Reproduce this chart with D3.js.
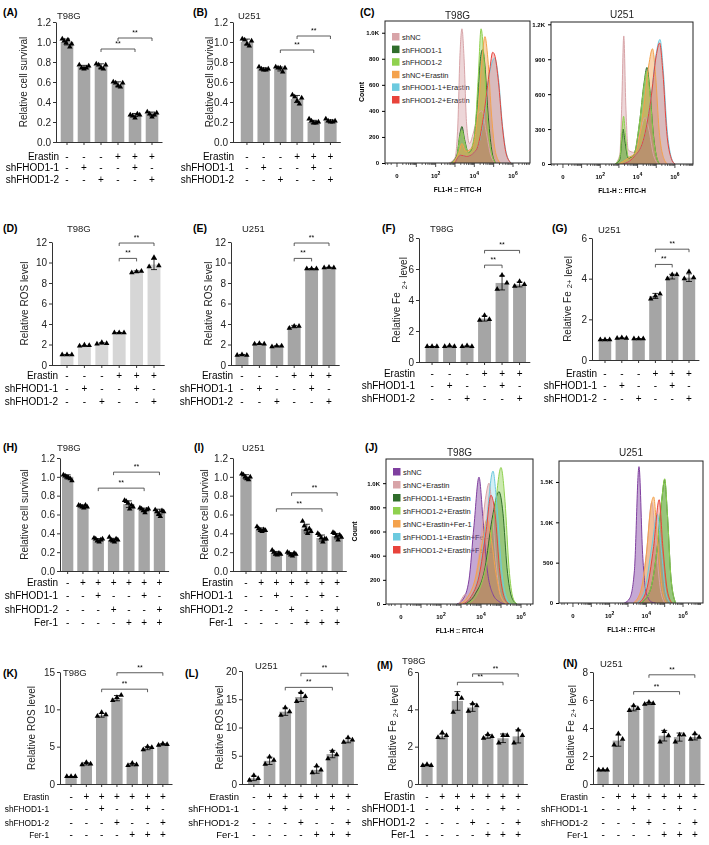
<!DOCTYPE html>
<html>
<head>
<meta charset="utf-8">
<script src="https://cdn.jsdelivr.net/npm/d3@7"></script>
<style>
body { margin: 0; background: #fff; }
</style>
</head>
<body>
<svg id="fig" width="709" height="845"></svg>
<script>
// ---- data ----
var rows3 = ["Erastin", "shFHOD1-1", "shFHOD1-2"];
var signs3 = [["-","-","-","+","+","+"], ["-","+","-","-","+","-"], ["-","-","+","-","-","+"]];
var rows4 = ["Erastin", "shFHOD1-1", "shFHOD1-2", "Fer-1"];
var signs4 = [["-","+","+","+","+","+","+"], ["-","-","+","-","-","+","-"], ["-","-","-","+","-","-","+"], ["-","-","-","-","+","+","+"]];

var survA = [1.0, 0.75, 0.76, 0.58, 0.27, 0.28];
var survAPts = [[1.03,1.01,0.99,1.02,0.95,0.98],[0.77,0.74,0.73,0.74,0.76],[0.78,0.77,0.74,0.73,0.77],[0.60,0.59,0.56,0.55,0.59],[0.27,0.26,0.24,0.28,0.27],[0.30,0.28,0.25,0.27,0.29]];
var survB = [1.0, 0.73, 0.73, 0.43, 0.2, 0.21];
var survBPts = [[1.03,1.02,0.98,0.96,1.01],[0.75,0.73,0.72,0.72,0.73],[0.75,0.74,0.74,0.70,0.74],[0.47,0.45,0.41,0.38,0.44],[0.23,0.21,0.19,0.19,0.2],[0.23,0.21,0.2,0.2,0.21]];
var rosD = [1.0, 1.85, 2.1, 3.15, 9.1, 9.8];
var rosDPts = [[1,1,1],[1.85,1.95,1.9],[2.05,2.2,2.1],[3.15,3.15,3.15],[9.0,9.1,9.15],[9.6,10.5,9.7]];
var rosE = [1.0, 2.05, 1.85, 3.75, 9.4, 9.5];
var rosEPts = [[0.95,1.0,0.95],[2.05,2.1,2.05],[1.8,1.85,1.85],[3.6,3.8,3.8],[9.4,9.4,9.4],[9.5,9.55,9.5]];
var feF = [1.0, 1.0, 1.0, 2.8, 5.1, 5.0];
var feFPts = [[1,1,1],[1,1.05,1],[1.0,1.05,1.0],[2.7,3.0,2.75],[4.7,5.6,5.1],[4.9,5.2,5.0]];
var feG = [1.0, 1.07, 1.05, 3.15, 4.1, 4.05];
var feGPts = [[1,1,1],[1.07,1.1,1.07],[1.05,1.05,1.05],[3.0,3.15,3.25],[4.0,4.2,4.2],[4.0,4.35,4.05]];
var survH = [1.0, 0.69, 0.33, 0.33, 0.71, 0.65, 0.63];
var survHPts = [[1.02,1.01,1.0,0.99,0.98,0.96],[0.7,0.69,0.68,0.67,0.7,0.68],[0.35,0.34,0.32,0.31,0.33,0.34],[0.36,0.33,0.32,0.31,0.34,0.33],[0.75,0.74,0.72,0.66,0.7,0.68],[0.67,0.66,0.64,0.62,0.65,0.66],[0.65,0.63,0.6,0.58,0.64,0.63]];
var survI = [1.0, 0.44, 0.19, 0.18, 0.45, 0.35, 0.37];
var survIPts = [[1.03,1.02,1.0,0.98,0.97,1.0],[0.47,0.45,0.43,0.42,0.44,0.43],[0.22,0.2,0.18,0.17,0.19,0.18],[0.2,0.19,0.17,0.16,0.19,0.18],[0.53,0.48,0.44,0.4,0.45,0.42],[0.4,0.38,0.35,0.31,0.34,0.34],[0.41,0.4,0.37,0.33,0.38,0.36]];
var rosK = [1.0, 2.7, 9.2, 11.5, 2.6, 4.8, 5.3];
var rosKPts = [[1,1,1],[2.6,2.9,2.7],[9.1,9.6,9.3],[11.2,11.6,11.9],[2.5,2.8,2.6],[4.6,5.0,4.9],[5.2,5.4,5.3]];
var rosL = [1.0, 4.1, 12.8, 15.4, 2.5, 5.3, 7.7];
var rosLPts = [[0.7,1.5,1.0],[3.5,4.8,4.2],[12.2,13.5,12.8],[14.6,16.2,15.5],[2.0,3.2,2.5],[4.5,5.8,5.2],[7.4,8.2,7.8]];
var feM = [1.0, 2.55, 4.45, 4.1, 2.55, 2.45, 2.55];
var feMPts = [[1.0,1.05,1.0],[2.5,2.75,2.6],[3.85,4.8,4.6],[3.9,4.3,4.2],[2.45,2.65,2.55],[2.2,2.6,2.6],[2.2,2.9,2.6]];
var feN = [1.0, 3.1, 5.4, 5.75, 3.45, 3.35, 3.35];
var feNPts = [[1,1,1],[2.8,3.6,3.2],[5.25,5.6,5.4],[5.7,5.85,5.75],[3.0,3.75,3.45],[3.0,3.5,3.5],[3.2,3.6,3.35]];

// flow cytometry overlays, points are [log decade, count]
var legendC = ["shNC", "shFHOD1-1", "shFHOD1-2", "shNC+Erastin", "shFHOD1-1+Erastin", "shFHOD1-2+Erastin"];
var colorsC = ["#d8a4a8", "#2f6d2b", "#8fd14f", "#f4a24c", "#6ccadf", "#e8433b"];
var histCT98G = [
  [[2.7,0],[3.0,40],[3.15,300],[3.25,800],[3.36,1030],[3.47,800],[3.6,300],[3.75,150],[3.95,230],[4.2,380],[4.4,400],[4.6,250],[4.85,60],[5.1,0]],
  [[2.8,0],[3.1,60],[3.25,220],[3.36,280],[3.5,180],[3.7,80],[3.95,150],[4.15,450],[4.3,780],[4.42,870],[4.55,750],[4.7,400],[4.9,100],[5.1,0]],
  [[2.8,0],[3.1,50],[3.25,200],[3.36,250],[3.5,160],[3.7,80],[4.0,200],[4.2,650],[4.35,1030],[4.48,850],[4.65,400],[4.85,100],[5.1,0]],
  [[2.9,0],[3.2,80],[3.36,150],[3.55,90],[3.9,120],[4.2,400],[4.4,800],[4.55,970],[4.7,800],[4.9,350],[5.1,80],[5.35,0]],
  [[3.0,0],[3.3,60],[3.6,50],[4.1,100],[4.5,350],[4.8,700],[5.05,805],[5.25,650],[5.45,300],[5.65,80],[5.9,0]],
  [[3.0,0],[3.3,60],[3.6,50],[4.1,100],[4.5,380],[4.8,720],[4.95,850],[5.05,830],[5.25,620],[5.45,280],[5.65,70],[5.9,0]]
];
var histCU251 = [
  [[2.8,0],[3.05,80],[3.15,500],[3.26,1100],[3.37,500],[3.5,120],[3.8,100],[4.1,250],[4.4,400],[4.6,300],[4.85,80],[5.1,0]],
  [[2.8,0],[3.05,40],[3.15,200],[3.22,300],[3.32,200],[3.5,50],[3.8,80],[4.1,350],[4.35,700],[4.5,830],[4.65,650],[4.85,250],[5.05,40],[5.2,0]],
  [[2.8,0],[3.05,60],[3.15,250],[3.25,410],[3.35,250],[3.5,60],[3.8,80],[4.1,350],[4.35,680],[4.5,800],[4.65,620],[4.85,230],[5.05,40],[5.2,0]],
  [[3.0,0],[3.5,50],[3.9,100],[4.3,450],[4.6,850],[4.8,990],[4.97,750],[5.15,300],[5.4,50],[5.6,0]],
  [[3.2,0],[3.8,60],[4.3,200],[4.7,550],[5.0,950],[5.2,1070],[5.38,800],[5.58,300],[5.8,60],[6.0,0]],
  [[3.2,0],[3.8,60],[4.3,200],[4.7,540],[5.0,930],[5.18,1040],[5.36,780],[5.56,280],[5.8,50],[6.0,0]]
];
var legendJ = ["shNC", "shNC+Erastin", "shFHOD1-1+Erastin", "shFHOD1-2+Erastin", "shNC+Erastin+Fer-1", "shFHOD1-1+Erastin+Fer-1", "shFHOD1-2+Erastin+Fer-1"];
var colorsJ = ["#7f3f9f", "#d8a4a8", "#2f6d2b", "#8fd14f", "#f4a24c", "#6ccadf", "#e8433b"];
var histJT98G = [
  [[2.8,0],[3.1,40],[3.4,200],[3.65,650],[3.9,1050],[4.1,700],[4.3,300],[4.6,80],[4.9,20],[5.2,0]],
  [[2.9,0],[3.1,60],[3.2,80],[3.35,50],[3.7,200],[4.0,550],[4.25,900],[4.4,1000],[4.55,800],[4.75,350],[5.0,60],[5.3,0]],
  [[3.2,0],[3.7,80],[4.2,300],[4.55,700],[4.9,930],[5.1,750],[5.3,300],[5.55,50],[5.8,0]],
  [[3.3,0],[3.8,80],[4.3,350],[4.7,800],[5.0,1130],[5.2,850],[5.4,300],[5.6,50],[5.8,0]],
  [[2.9,0],[3.3,50],[3.7,200],[4.05,500],[4.3,700],[4.5,550],[4.75,250],[5.0,60],[5.3,0]],
  [[3.1,0],[3.5,60],[3.9,250],[4.25,650],[4.6,1100],[4.8,800],[5.05,250],[5.3,40],[5.5,0]],
  [[3.1,0],[3.5,60],[3.9,230],[4.25,600],[4.5,900],[4.7,750],[4.95,250],[5.2,40],[5.4,0]]
];
var histJU251 = [
  [[2.8,0],[3.1,60],[3.35,400],[3.6,1690],[3.8,600],[4.0,120],[4.3,10],[4.5,0]],
  [[3.3,0],[3.7,150],[4.0,600],[4.3,1250],[4.5,800],[4.75,200],[5.0,0]],
  [[3.7,0],[4.2,150],[4.6,700],[4.85,1300],[5.0,1530],[5.15,1100],[5.35,300],[5.6,0]],
  [[3.7,0],[4.2,150],[4.6,700],[4.85,1300],[5.0,1540],[5.15,1100],[5.35,300],[5.6,0]],
  [[3.3,0],[3.7,150],[4.0,600],[4.25,1200],[4.4,1315],[4.6,800],[4.85,200],[5.1,0]],
  [[3.5,0],[3.9,150],[4.3,700],[4.6,1100],[4.8,700],[5.05,150],[5.3,0]],
  [[3.6,0],[4.0,150],[4.4,700],[4.7,1280],[4.9,700],[5.15,150],[5.4,0]]
];

// ---- drawing ----
var FONT = "'Liberation Sans', Arial, Helvetica, sans-serif";
var svg = d3.select("#fig").attr("font-family", FONT);
svg.append("defs").append("filter").attr("id", "gray")
  .append("feColorMatrix").attr("type", "saturate").attr("values", 0);
svg.append("rect").attr("width", 709).attr("height", 845).attr("fill", "#fff");
var tri = d3.symbol(d3.symbolTriangle).size(13)();

function panelLabel(t, x, y) {
  svg.append("text").attr("x", x).attr("y", y).attr("font-size", 10.5).attr("font-weight", "bold").text(t);
}

function barPanel(c) {
  var g = svg.append("g").attr("filter", "url(#gray)");
  var n = c.means.length;
  var x = d3.scaleBand().domain(d3.range(n)).range([c.left, c.left + n * c.step]).paddingInner(0.26).paddingOuter(0.13);
  var y = d3.scaleLinear().domain([0, c.max]).range([c.y0, c.y1]);
  var mid = function(i) { return x(i) + x.bandwidth() / 2; };
  var rf = c.rowFont || 10;

  g.selectAll("rect.bar").data(c.means).join("rect")
    .attr("class", "bar")
    .attr("x", function(d, i) { return x(i); })
    .attr("y", function(d) { return y(d); })
    .attr("width", x.bandwidth())
    .attr("height", function(d) { return c.y0 - y(d); })
    .attr("fill", c.fill || "#a5a5a5");

  c.pts.forEach(function(arr, i) {
    var sd = d3.deviation(arr), m = c.means[i], cx = mid(i);
    var top = y(m + sd), bot = y(Math.max(0, m - sd));
    g.append("path")
      .attr("d", "M" + cx + "," + bot + "V" + top + "M" + (cx - 3) + "," + top + "H" + (cx + 3) + "M" + (cx - 3) + "," + bot + "H" + (cx + 3))
      .attr("stroke", "#000").attr("stroke-width", 0.8).attr("fill", "none");
    arr.forEach(function(v, j) {
      var off = (j / (arr.length - 1) - 0.5) * x.bandwidth() * 0.75;
      g.append("path").attr("d", tri).attr("transform", "translate(" + (cx + off) + "," + y(v) + ")").attr("fill", "#000");
    });
  });

  // y axis
  var ax = g.append("g").attr("transform", "translate(" + c.axisX + ",0)")
    .call(d3.axisLeft(y).tickValues(c.ticks).tickFormat(c.fmt).tickSize(3).tickSizeOuter(0).tickPadding(2));
  ax.selectAll("text").attr("font-size", 10).attr("font-family", FONT).attr("fill", "#222");
  ax.selectAll("line,path").attr("stroke", "#333");

  // x axis
  var xEnd = c.left + n * c.step + 2;
  g.append("line").attr("x1", c.axisX).attr("x2", xEnd).attr("y1", c.y0 + 0.5).attr("y2", c.y0 + 0.5).attr("stroke", "#333");
  g.selectAll("line.xt").data(c.means).join("line").attr("class", "xt")
    .attr("x1", function(d, i) { return mid(i); }).attr("x2", function(d, i) { return mid(i); })
    .attr("y1", c.y0).attr("y2", c.y0 + 3).attr("stroke", "#333");

  // condition rows
  c.rows.forEach(function(r, k) {
    g.append("text").attr("x", c.rowX).attr("y", c.rowY[k]).attr("text-anchor", "end").attr("font-size", rf).attr("fill", "#000").text(r);
    c.signs[k].forEach(function(s, i) {
      g.append("text").attr("x", mid(i)).attr("y", c.rowY[k]).attr("text-anchor", "middle").attr("font-size", 10).attr("fill", "#000").text(s);
    });
  });

  // significance brackets
  c.brackets.forEach(function(b) {
    var x1 = mid(b[0]), x2 = mid(b[1]), yy = y(b[2]);
    g.append("path").attr("d", "M" + x1 + "," + (yy + 3) + "V" + yy + "H" + x2 + "V" + (yy + 3))
      .attr("fill", "none").attr("stroke", "#333").attr("stroke-width", 0.8);
    g.append("text").attr("x", (x1 + x2) / 2).attr("y", yy - 3).attr("text-anchor", "middle").attr("font-size", 7).text("**");
  });

  // y label
  var yl = g.append("text").attr("transform", "translate(" + c.ylabX + "," + ((c.y0 + c.y1) / 2) + ") rotate(-90)")
    .attr("text-anchor", "middle").attr("font-size", 10).attr("fill", "#222");
  if (c.fe) {
    yl.append("tspan").text("Relative Fe");
    yl.append("tspan").attr("dx", 3).attr("dy", c.feShift).attr("font-size", 7.5).text("2+");
    yl.append("tspan").attr("dx", 3).text("level");
  } else {
    yl.text(c.ylab);
  }

  g.append("text").attr("x", c.titleX).attr("y", c.titleY).attr("font-size", 9.5).attr("fill", "#222").text(c.title);
  panelLabel(c.label, c.labelX, c.labelY);
}

function flowPanel(c) {
  var g = svg.append("g");
  var x = d3.scaleLinear().domain([c.u0, c.u1]).range([c.bx0, c.bx1]);
  var y = d3.scaleLinear().domain([0, c.ymax]).range([c.by1, c.by0]);
  var clipId = "clip" + c.id;
  svg.append("clipPath").attr("id", clipId).append("rect")
    .attr("x", c.bx0).attr("y", c.by0).attr("width", c.bx1 - c.bx0).attr("height", c.by1 - c.by0);

  if (c.legend) {
    c.legend.forEach(function(l, i) {
      var ly = c.legY + i * c.legStep;
      g.append("rect").attr("x", c.legX).attr("y", ly - 4).attr("width", 7.5).attr("height", 7.5).attr("fill", c.colors[i]);
      g.append("text").attr("x", c.legX + 10).attr("y", ly + 3).attr("font-size", 7.5).attr("fill", "#222").text(l);
    });
  }

  var area = d3.area().x(function(d) { return x(d[0]); }).y0(y(0)).y1(function(d) { return y(d[1]); }).curve(d3.curveMonotoneX);
  var line = d3.line().x(function(d) { return x(d[0]); }).y(function(d) { return y(d[1]); }).curve(d3.curveMonotoneX);
  var hg = g.append("g").attr("clip-path", "url(#" + clipId + ")");
  c.hists.forEach(function(h, i) {
    var col = c.colors[i];
    hg.append("path").attr("d", area(h)).attr("fill", col)
      .attr("fill-opacity", (col === "#e8433b" || col === "#6ccadf") ? 0.3 : 0.45);
  });
  c.hists.forEach(function(h, i) {
    hg.append("path").attr("d", line(h)).attr("fill", "none").attr("stroke", c.colors[i]).attr("stroke-width", 1);
  });

  var axg = g.append("g").attr("filter", "url(#gray)");
  axg.append("rect").attr("x", c.bx0).attr("y", c.by0).attr("width", c.bx1 - c.bx0).attr("height", c.by1 - c.by0)
    .attr("fill", "none").attr("stroke", "#222").attr("stroke-width", 1);

  var ax = axg.append("g").attr("transform", "translate(" + c.bx0 + ",0)")
    .call(d3.axisLeft(y).tickValues(c.ticks).tickSize(3).tickSizeOuter(0).tickPadding(3)
      .tickFormat(function(d) { return d >= 1000 ? (d / 1000).toFixed(1) + "K" : d; }));
  ax.select(".domain").remove();
  ax.selectAll("text").attr("font-size", 6).attr("font-weight", "bold").attr("font-family", FONT);

  // bottom ticks on log decades
  var minor = [];
  for (var dd = 0; dd < 7; dd++) {
    for (var k = 2; k < 10; k++) minor.push(dd + Math.log10(k));
  }
  [-0.3, -0.48, -0.6].forEach(function(v) { minor.push(v); });
  axg.selectAll("line.mn").data(minor.filter(function(v) { return v > c.u0 && v < c.u1; })).join("line").attr("class", "mn")
    .attr("x1", function(d) { return x(d); }).attr("x2", function(d) { return x(d); })
    .attr("y1", c.by1).attr("y2", c.by1 + 2).attr("stroke", "#222").attr("stroke-width", 0.7);
  axg.selectAll("line.mj").data(d3.range(0, 7)).join("line").attr("class", "mj")
    .attr("x1", function(d) { return x(d); }).attr("x2", function(d) { return x(d); })
    .attr("y1", c.by1).attr("y2", c.by1 + 4).attr("stroke", "#222").attr("stroke-width", 0.8);
  [0, 2, 4, 6].forEach(function(d) {
    var t = axg.append("text").attr("x", x(d)).attr("y", c.by1 + 15).attr("text-anchor", "middle")
      .attr("font-size", 6).attr("font-weight", "bold");
    if (d === 0) t.text("0");
    else {
      t.append("tspan").text("10");
      t.append("tspan").attr("dy", -3.5).attr("font-size", 5).text(d);
    }
  });
  axg.append("text").attr("x", (c.bx0 + c.bx1) / 2).attr("y", c.by1 + 29).attr("text-anchor", "middle")
    .attr("font-size", 6.5).attr("font-weight", "bold").text("FL1-H :: FITC-H");
  if (c.countX) {
    axg.append("text").attr("transform", "translate(" + c.countX + "," + ((c.by0 + c.by1) / 2) + ") rotate(-90)")
      .attr("text-anchor", "middle").attr("font-size", 7).attr("font-weight", "bold").text("Count");
  }
  axg.append("text").attr("x", (c.bx0 + c.bx1) / 2).attr("y", c.titleY).attr("text-anchor", "middle")
    .attr("font-size", 10).attr("fill", "#222").text(c.title);
}

var f1 = d3.format(".1f");
var t12 = [0, 0.2, 0.4, 0.6, 0.8, 1.0, 1.2];
var rowY3a = [160, 171, 183];
var rowY3b = [379, 392, 405];
var rowY3c = [377, 389, 402];
var rowY4a = [586, 599, 613, 626];
var rowY4b = [800, 812, 826, 838];

// row 1
barPanel({ label: "(A)", labelX: 3, labelY: 16, title: "T98G", titleX: 57, titleY: 19,
  means: survA, pts: survAPts, left: 58.5, step: 17, axisX: 56, y0: 142, y1: 22, max: 1.2, ticks: t12, fmt: f1,
  ylab: "Relative cell survival", ylabX: 27, rows: rows3, signs: signs3, rowX: 59, rowY: rowY3a,
  brackets: [[2, 4, 0.93], [3, 5, 1.04]] });
barPanel({ label: "(B)", labelX: 193, labelY: 16, title: "U251", titleX: 238, titleY: 19,
  means: survB, pts: survBPts, left: 238.6, step: 16.7, axisX: 233, y0: 142, y1: 22, max: 1.2, ticks: t12, fmt: f1,
  ylab: "Relative cell survival", ylabX: 213, rows: rows3, signs: signs3, rowX: 234, rowY: rowY3a,
  brackets: [[2, 4, 0.92], [3, 5, 1.06]] });
panelLabel("(C)", 360, 16);
flowPanel({ id: "c1", bx0: 385, bx1: 530, by0: 21, by1: 163, ymax: 1090, ticks: [0, 200, 400, 600, 800, 1000],
  u0: -0.62, u1: 6.88, hists: histCT98G, colors: colorsC, legend: legendC, legX: 392, legY: 37, legStep: 12.6,
  countX: 364, title: "T98G", titleY: 19 });
flowPanel({ id: "c2", bx0: 551, bx1: 693, by0: 22, by1: 164, ymax: 1220, ticks: [0, 300, 600, 900, 1200],
  u0: -0.64, u1: 6.97, hists: histCU251, colors: colorsC, title: "U251", titleY: 18 });

// row 2
barPanel({ label: "(D)", labelX: 3, labelY: 232, title: "T98G", titleX: 67, titleY: 232,
  means: rosD, pts: rosDPts, left: 58.3, step: 17.4, axisX: 52, y0: 365, y1: 242, max: 12, ticks: [0, 2, 4, 6, 8, 10, 12], fmt: d3.format("d"),
  ylab: "Relative ROS level", ylabX: 28, rows: rows3, signs: signs3, rowX: 58, rowY: rowY3b, fill: "#d6d6d6",
  brackets: [[3, 4, 10.4], [3, 5, 11.9]] });
barPanel({ label: "(E)", labelX: 193, labelY: 232, title: "U251", titleX: 242, titleY: 232,
  means: rosE, pts: rosEPts, left: 233.3, step: 17.4, axisX: 231, y0: 365, y1: 242, max: 12, ticks: [0, 2, 4, 6, 8, 10, 12], fmt: d3.format("d"),
  ylab: "Relative ROS level", ylabX: 212, rows: rows3, signs: signs3, rowX: 233, rowY: rowY3b,
  brackets: [[3, 4, 10.4], [3, 5, 11.9]] });
barPanel({ label: "(F)", labelX: 382, labelY: 232, title: "T98G", titleX: 430, titleY: 232,
  means: feF, pts: feFPts, left: 423.3, step: 17.5, axisX: 419, y0: 362, y1: 238, max: 8, ticks: [0, 2, 4, 6, 8], fmt: d3.format("d"),
  fe: true, feShift: 7, ylabX: 400, rows: rows3, signs: signs3, rowX: 415, rowY: rowY3c,
  brackets: [[3, 4, 6.25], [3, 5, 7.2]] });
barPanel({ label: "(G)", labelX: 552, labelY: 232, title: "U251", titleX: 598, titleY: 233,
  means: feG, pts: feGPts, left: 596.6, step: 16.8, axisX: 592, y0: 360, y1: 238, max: 6, ticks: [0, 2, 4, 6], fmt: d3.format("d"),
  fe: true, feShift: 1, ylabX: 571, rows: rows3, signs: signs3, rowX: 597, rowY: rowY3c,
  brackets: [[3, 4, 4.7], [3, 5, 5.45]] });

// row 3
barPanel({ label: "(H)", labelX: 3, labelY: 451, title: "T98G", titleX: 57, titleY: 451,
  means: survH, pts: survHPts, left: 60, step: 15.3, axisX: 60, y0: 571, y1: 458, max: 1.2, ticks: t12, fmt: f1,
  ylab: "Relative cell survival", ylabX: 28, rows: rows4, signs: signs4, rowX: 58, rowY: rowY4a,
  brackets: [[2, 5, 0.88], [3, 6, 1.05]] });
barPanel({ label: "(I)", labelX: 194, labelY: 451, title: "U251", titleX: 242, titleY: 451,
  means: survI, pts: survIPts, left: 238.4, step: 15.2, axisX: 233, y0: 571, y1: 458, max: 1.2, ticks: t12, fmt: f1,
  ylab: "Relative cell survival", ylabX: 208, rows: rows4, signs: signs4, rowX: 233, rowY: rowY4a,
  brackets: [[2, 5, 0.66], [3, 6, 0.83]] });
panelLabel("(J)", 365, 451);
flowPanel({ id: "j1", bx0: 386, bx1: 533, by0: 459, by1: 604, ymax: 1200, ticks: [0, 200, 400, 600, 800, 1000],
  u0: -0.75, u1: 6.6, hists: histJT98G, colors: colorsJ, legend: legendJ, legX: 393, legY: 472, legStep: 13,
  countX: 357, title: "T98G", titleY: 456 });
flowPanel({ id: "j2", bx0: 559, bx1: 703, by0: 461, by1: 603, ymax: 1760, ticks: [0, 500, 1000, 1500],
  u0: -0.76, u1: 7.09, hists: histJU251, colors: colorsJ, title: "U251", titleY: 456 });

// row 4
barPanel({ label: "(K)", labelX: 3, labelY: 677, title: "T98G", titleX: 63, titleY: 676,
  means: rosK, pts: rosKPts, left: 63.4, step: 15.3, axisX: 60, y0: 784, y1: 672, max: 15, ticks: [0, 5, 10, 15], fmt: d3.format("d"),
  ylab: "Relative ROS level", ylabX: 35, rows: rows4, signs: signs4, rowX: 49, rowY: rowY4b, rowFont: 8.3,
  brackets: [[2, 5, 12.7], [3, 6, 14.9]] });
barPanel({ label: "(L)", labelX: 185, labelY: 677, title: "U251", titleX: 255, titleY: 669,
  means: rosL, pts: rosLPts, left: 246, step: 15.7, axisX: 242, y0: 784, y1: 671, max: 20, ticks: [0, 5, 10, 15, 20], fmt: d3.format("d"),
  ylab: "Relative ROS level", ylabX: 223, rows: rows4, signs: signs4, rowX: 239, rowY: rowY4b, rowFont: 9.5,
  brackets: [[2, 5, 17.1], [3, 6, 19.6]] });
barPanel({ label: "(M)", labelX: 377, labelY: 669, title: "T98G", titleX: 402, titleY: 664,
  means: feM, pts: feMPts, left: 419.4, step: 15.2, axisX: 418, y0: 784, y1: 672, max: 6, ticks: [0, 2, 4, 6], fmt: d3.format("d"),
  fe: true, feShift: 2, ylabX: 396, rows: rows4, signs: signs4, rowX: 415, rowY: rowY4b,
  brackets: [[2, 5, 5.45], [3, 6, 5.9]] });
barPanel({ label: "(N)", labelX: 563, labelY: 667, title: "U251", titleX: 600, titleY: 667,
  means: feN, pts: feNPts, left: 595.4, step: 15.3, axisX: 593, y0: 784, y1: 672, max: 8, ticks: [0, 2, 4, 6, 8], fmt: d3.format("d"),
  fe: true, feShift: 2, ylabX: 574, rows: rows4, signs: signs4, rowX: 588, rowY: rowY4b, rowFont: 8.8,
  brackets: [[2, 5, 6.6], [3, 6, 7.8]] });
</script>
</body>
</html>
